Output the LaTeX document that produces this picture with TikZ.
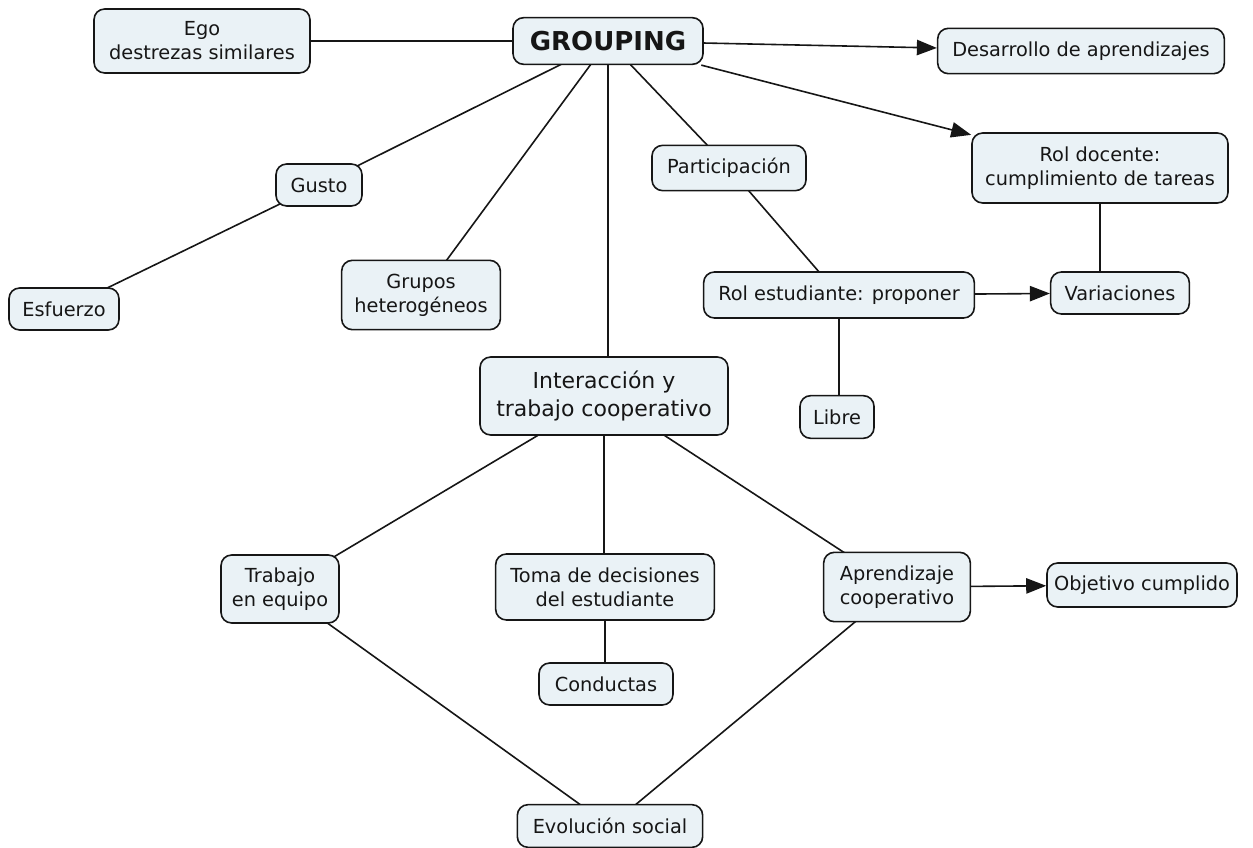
\documentclass[tikz,border=0pt]{standalone}
\usepackage{fontspec}
\setmainfont{DejaVu Sans}
\usetikzlibrary{arrows.meta,backgrounds}
\definecolor{boxfill}{RGB}{234,242,246}
\definecolor{ink}{RGB}{22,22,22}
\begin{document}
\begin{tikzpicture}[x=0.75pt,y=-0.75pt,
  concept/.style={draw=ink, line width=1.2pt, fill=boxfill, rounded corners=8pt,
    align=center, inner sep=2pt, text=ink, font=\fontsize{14.5}{18}\selectfont},
  link/.style={draw=ink, line width=1.2pt},
  flow/.style={link, -{Triangle[length=15pt,width=11.5pt]}}]
\useasboundingbox (0,0) rectangle (1253,848);

% concepts
\node[concept, minimum width=162pt, minimum height=48pt] (ego) at (202,41) {Ego\\destrezas similares};
\node[concept, minimum width=142.5pt, minimum height=35pt, font=\fontsize{19.5}{22}\selectfont\bfseries] (grp) at (608,41) {GROUPING};
\node[concept, minimum width=215pt, minimum height=34pt] (des) at (1081,51) {Desarrollo de aprendizajes};
\node[concept, minimum width=192pt, minimum height=52.5pt] (doc) at (1100,168) {Rol docente:\\cumplimiento de tareas};
\node[concept, minimum width=115.5pt, minimum height=34pt] (par) at (729,168) {Participación};
\node[concept, minimum width=64.5pt, minimum height=31.5pt] (gus) at (319,185) {Gusto};
\node[concept, minimum width=82.5pt, minimum height=31.5pt] (esf) at (64,309) {Esfuerzo};
\node[concept, minimum width=119pt, minimum height=52pt] (het) at (421,295) {Grupos\\heterogéneos};
\node[concept, minimum width=203pt, minimum height=34.5pt] (est) at (839,295) {Rol estudiante: proponer};
\node[concept, minimum width=104pt, minimum height=31.5pt] (var) at (1120,293) {Variaciones};
\node[concept, minimum width=55.5pt, minimum height=32pt] (lib) at (837,417) {Libre};
\node[concept, minimum width=186pt, minimum height=58.5pt, font=\fontsize{16.5}{21}\selectfont] (int) at (604,396) {Interacción y\\trabajo cooperativo};
\node[concept, minimum width=88.5pt, minimum height=51pt] (tra) at (280,589) {Trabajo\\en equipo};
\node[concept, minimum width=164pt, minimum height=49.5pt] (tom) at (605,587) {Toma de decisiones\\del estudiante};
\node[concept, minimum width=100.5pt, minimum height=31.5pt] (con) at (606,684) {Conductas};
\node[concept, minimum width=110pt, minimum height=52pt] (apr) at (897,587) {Aprendizaje\\cooperativo};
\node[concept, minimum width=142.5pt, minimum height=33pt] (obj) at (1142,585) {Objetivo cumplido};
\node[concept, minimum width=139pt, minimum height=32pt] (evo) at (610,826) {Evolución social};

% plain links, drawn behind the boxes
\begin{scope}[on background layer]
  \draw[link] (ego.center) -- (grp.center);
  \draw[link] (grp.center) -- (gus.center);
  \draw[link] (grp.center) -- (het.center);
  \draw[link] (grp.center) -- (grp.center |- int.center);
  \draw[link] (grp.center) -- (par.center);
  \draw[link] (par.center) -- (est.center);
  \draw[link] (doc.center) -- (doc.center |- var.center);
  \draw[link] (est.center) -- (est.center |- lib.center);
  \draw[link] (gus.center) -- (esf.center);
  \draw[link] (int.center) -- (tra.center);
  \draw[link] (int.center) -- (int.center |- tom.center);
  \draw[link] (int.center) -- (apr.center);
  \draw[link] (tom.center) -- (tom.center |- con.center);
  \draw[link] (tra.center) -- (evo.center);
  \draw[link] (apr.center) -- (evo.center);
\end{scope}

% directed links
\draw[flow] (grp) -- (des);
\draw[flow] (grp) -- (doc);
\draw[flow] (est) -- (var);
\draw[flow] (apr) -- (obj);
\end{tikzpicture}
\end{document}
